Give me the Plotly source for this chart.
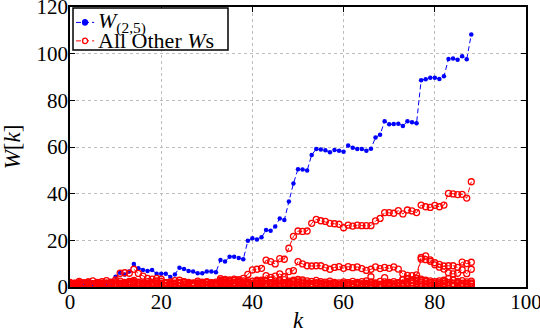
import plotly.graph_objects as go

# Sample index
k = list(range(89))

# W_(2,5)
w25 = [0.3, 0.5, 0.4, 0.8, 0.6, 1.0, 0.7, 0.9, 1.2, 1.8,
       4.4, 6.1, 5.4, 6.6, 9.9, 8.0, 7.3, 6.9, 7.3, 5.7,
       5.7, 5.7, 4.3, 5.4, 8.3, 7.7, 6.9, 6.6, 5.9, 5.9,
       6.6, 6.6, 6.3, 11.6, 10.9, 13.0, 13.0, 12.4, 11.9, 19.8,
       20.9, 20.4, 21.3, 24.4, 24.1, 25.9, 29.4, 28.7, 36.6, 44.4,
       50.5, 50.4, 49.9, 56.6, 59.1, 58.9, 58.6, 57.7, 58.7, 58.4,
       58.0, 60.6, 59.7, 59.1, 59.1, 58.4, 59.2, 64.1, 65.3, 71.0,
       69.7, 69.9, 70.0, 69.0, 71.0, 70.6, 70.2, 88.6, 89.0, 89.7,
       89.7, 89.1, 90.3, 97.7, 97.9, 97.4, 98.9, 97.6, 108.2]

# All other W series
w_a = [0.8, 1.2, 0.6, 1.5, 0.9, 1.1, 1.8, 1.0, 0.7, 1.3,
       0.9, 1.4, 1.1, 1.6, 2.0, 1.2, 0.8, 1.0, 1.3, 0.9,
       1.1, 0.7, 1.2, 1.5, 1.9, 1.0, 0.8, 1.2, 1.4, 0.9,
       1.1, 1.3, 0.8, 2.4, 2.1, 1.7, 1.5, 2.6,
       3.7, 5.4, 7.3, 7.6, 8.0, 11.5, 10.9, 9.9, 12.2, 11.9,
       16.6, 21.7, 24.0, 23.8, 24.0, 27.3, 29.0, 28.4, 28.1, 27.3,
       27.1, 26.9, 25.4, 26.5, 26.1, 26.5, 26.3, 26.3, 26.3, 28.3,
       29.4, 31.9, 31.9, 31.6, 32.7, 31.3, 33.0, 32.6, 31.9, 35.1,
       34.4, 34.1, 35.0, 34.4, 35.1, 40.1, 39.9, 39.6, 39.7, 38.1,
       45.1]

w_b = [1.5, 1.1, 1.9, 1.3, 1.7, 1.2, 2.0, 1.6, 1.4, 1.8,
       1.3, 1.7, 1.5, 2.1, 1.6, 1.9, 1.4, 1.2, 1.6, 1.8,
       1.1, 1.5, 1.8, 1.3, 1.7, 2.0, 1.5, 1.2, 1.6, 1.4,
       1.9, 1.6, 1.3, 2.2, 2.6, 2.3, 2.0, 1.8, 1.5, 2.1,
       1.7, 2.4, 2.9,
       4.9, 4.1, 4.7, 5.6, 4.4, 6.6, 7.0,
       10.9, 9.9, 9.1, 9.0, 9.1, 9.1, 8.3, 7.6, 8.4, 8.7,
       8.0, 8.7, 8.3, 8.6, 7.9, 7.1, 7.6, 8.6, 7.9, 8.4,
       8.0, 8.6, 7.7, 5.6, 5.0, 4.9, 5.2, 12.7, 13.3, 11.6,
       10.4, 9.7, 9.0, 9.1, 9.1, 8.4, 10.7, 10.0, 10.6]

w_c = [0.6, 0.9, 1.4, 0.7, 1.0, 0.5, 1.2, 0.8, 1.6, 0.9,
       0.7, 1.1, 0.6, 1.0, 1.3, 0.8, 1.2, 0.7, 0.9, 1.4,
       1.0, 0.6, 0.8, 1.1, 0.7, 1.3, 0.9, 0.6, 1.0, 1.2,
       0.8, 0.7, 1.5, 1.9, 1.6, 1.3, 1.8, 1.2, 1.0, 1.4,
       1.1, 0.9, 1.6, 1.2, 1.4, 1.0, 1.3, 1.7, 1.5, 1.1,
       1.8, 1.4, 1.2, 1.0, 1.3, 0.9, 1.1, 0.8, 1.2, 1.0,
       0.7, 1.1, 0.9, 1.3, 1.0, 0.8, 1.2, 1.0, 0.9, 1.4,
       1.1, 1.3,
       1.5, 3.3, 3.5, 3.0, 3.8, 12.0, 11.7, 11.0,
       9.5, 8.5, 7.7, 6.1, 5.6, 5.9, 7.4, 5.7, 7.6]

w_d = [1.0, 0.7, 1.3, 0.9, 1.6, 1.2, 0.8, 1.5, 1.1, 1.4,
       3.0, 5.9, 6.1, 5.9, 7.6, 5.8, 4.7, 3.7, 3.4, 3.7,
       3.4, 1.8,
       1.2, 0.9, 1.5, 1.1, 0.8, 1.3, 1.0, 1.6, 0.9, 1.2,
       1.4, 1.0, 2.0, 1.7, 1.5, 1.9, 1.4, 1.1, 1.3, 1.6,
       1.0, 1.4, 1.2, 1.7, 1.3, 1.5, 1.1, 1.8, 2.0, 1.6,
       1.3, 1.1, 1.4, 1.0, 1.2, 0.9, 1.3, 1.1, 0.8, 1.2,
       1.0, 0.9, 1.3, 1.1, 0.8, 1.2, 1.0, 1.4, 1.1, 0.9,
       1.3, 1.6, 1.4, 1.8, 1.5, 2.1, 1.7, 1.3, 1.6, 1.2,
       1.5, 1.9, 1.4, 1.7, 1.2, 1.5, 1.3]

w_e = [0.4, 0.6, 0.3, 0.9, 0.5, 0.7, 1.1, 0.6, 0.8, 0.5,
       0.9, 0.6, 1.2, 0.8, 1.5, 1.0, 0.7, 0.9, 0.6, 1.1,
       0.8, 0.5, 0.7, 1.0, 0.6, 0.9, 1.3, 0.7, 0.5, 0.8,
       0.6, 0.9, 0.7, 1.4, 1.2, 1.0, 0.8, 1.1, 0.9, 0.6,
       0.8, 1.2, 0.7, 0.9, 1.1, 0.8, 0.6, 1.0, 1.3, 0.9,
       1.1, 0.7, 0.9, 0.6, 0.8, 1.0, 0.7, 0.5, 0.9, 0.6,
       0.8, 0.6, 0.9, 1.1, 0.7, 0.8, 4.4, 0.9, 0.6, 0.8,
       0.7, 0.9, 0.6, 1.0, 1.2, 0.8, 0.9, 1.3, 1.0, 0.7,
       0.9, 1.1, 0.8, 1.0, 0.7, 0.9, 0.6, 0.8, 1.2]

w_f = [1.2, 1.5, 1.0, 1.8, 2.2, 1.4, 1.9, 1.3, 1.6, 2.1,
       1.7, 1.3, 1.9, 1.5, 2.3, 1.8, 1.4, 1.6, 1.2, 1.7,
       1.5, 1.9, 1.3, 1.6, 2.0, 2.2, 1.7, 1.4, 1.8, 1.5,
       1.9, 1.6, 1.3, 2.9, 2.7, 2.5, 2.8, 2.3, 1.9, 1.6,
       1.4, 1.8, 2.1, 1.6, 1.9, 1.5, 2.2, 1.7, 2.0, 2.4,
       2.6, 2.2, 1.8, 1.5, 1.9, 1.6, 1.3, 1.7, 1.4, 1.2,
       1.5, 1.8, 1.4, 1.7, 1.3, 1.6, 1.9, 1.5, 1.2, 4.0,
       1.6, 1.3, 1.8, 1.5, 2.0, 1.7, 2.2, 2.8, 2.4, 2.0,
       1.7, 1.9, 2.3, 1.8, 1.5, 1.9, 1.6, 1.4, 1.8]

w_g = [0.2, 0.1, 0.3, 0.2, 0.4, 0.1, 0.3, 0.2, 0.5, 0.3,
       0.4, 0.2, 0.3, 0.6, 0.4, 0.2, 0.5, 0.3, 0.4, 0.2,
       0.3, 0.2, 0.4, 0.3, 0.5, 0.2, 0.3, 0.4, 0.2, 0.3,
       0.5, 0.3, 0.2, 0.4, 0.3, 0.5, 0.2, 0.4, 0.3, 0.5,
       0.3, 0.4, 0.2, 0.5, 0.3, 0.2, 0.4, 0.3, 0.5, 0.4,
       0.2, 0.3, 0.5, 0.2, 0.4, 0.3, 0.2, 0.4, 0.3, 0.2,
       0.4, 0.2, 0.3, 0.5, 0.3, 0.2, 0.4, 0.3, 0.2, 0.5,
       0.3, 0.4, 0.2, 0.3, 0.5, 0.3, 0.4, 0.2, 0.3, 0.4,
       0.2, 0.4, 0.3, 0.5, 0.2, 0.3, 0.4, 0.2, 0.3]

w_h = [2.0, 1.6, 2.4, 1.8, 2.1, 2.6, 1.7, 2.3, 2.7, 1.9,
       2.2, 2.5, 2.0, 2.4, 2.8, 2.1, 1.8, 2.3, 2.0, 2.6,
       2.4, 1.9, 2.2, 2.7, 2.9, 2.3, 2.0, 1.8, 2.5, 2.1,
       2.3, 1.9, 2.1, 3.6, 3.3, 3.0, 3.4, 3.1, 2.6, 2.2,
       2.5, 2.9, 2.4, 2.7, 3.0, 2.6, 2.8, 3.2, 2.5, 2.9,
       3.3, 3.0, 2.6, 2.4, 2.8, 2.3, 2.1, 2.5, 2.0, 1.8,
       2.2, 1.9, 2.4, 2.0, 2.3, 2.6, 2.1, 1.8, 2.4, 2.2,
       2.0, 2.3, 1.9, 3.2, 3.5, 3.0, 3.6, 3.4, 2.9, 2.6,
       2.3, 2.6, 2.9, 3.7, 3.0, 2.4, 2.7, 2.2, 2.5]

other_ws = [w_a, w_b, w_c, w_d, w_e, w_f, w_g, w_h]

x_ticks = [0, 20, 40, 60, 80, 100]
y_ticks = [0, 20, 40, 60, 80, 100, 120]

legend_labels = ["<i>W</i><sub>(2,5)</sub>", "All Other <i>W</i>s"]

FONT = "Liberation Serif"
BLUE = "#0000ff"
RED = "#ff0000"
DASH = "5px,3px"

fig = go.Figure()

fig.add_trace(go.Scatter(
    x=k, y=w25, mode="lines+markers", name=legend_labels[0], showlegend=False,
    line=dict(color=BLUE, width=1, dash=DASH),
    marker=dict(color=BLUE, size=4.5, symbol="circle"),
))

for series in other_ws:
    fig.add_trace(go.Scatter(
        x=k, y=series, mode="lines+markers", name=legend_labels[1], showlegend=False,
        line=dict(color=RED, width=1, dash=DASH),
        marker=dict(color=RED, size=6, symbol="circle-open",
                    line=dict(width=1.3, color=RED)),
    ))

axis_common = dict(
    showline=True, linecolor="black", linewidth=1.5, mirror="ticks",
    ticks="inside", ticklen=5, tickcolor="black",
    showgrid=True, gridcolor="#bdbdbd", griddash="dot", gridwidth=1,
    zeroline=False, ticklabeloverflow="allow", automargin=False,
    tickfont=dict(family=FONT, size=21, color="black"),
)

fig.update_xaxes(range=[0, 100], tickvals=x_ticks, ticklabelstandoff=-5,
                 title=dict(text="<i>k</i>", font=dict(family=FONT, size=23, color="black")),
                 **axis_common)
fig.update_yaxes(range=[0, 120], tickvals=y_ticks, ticklabelstandoff=-4,
                 title=dict(text="<i>W</i>[<i>k</i>]", font=dict(family=FONT, size=23, color="black")),
                 **axis_common)

# Boxed legend in the upper-left corner of the axes
shapes = [dict(type="rect", xref="paper", yref="paper",
               x0=0.0066, x1=0.3465, y0=0.846, y1=0.996,
               line=dict(color="black", width=1.5), fillcolor="white", layer="above")]
annotations = []
for row_y, color, open_marker, label in [(0.945, BLUE, False, legend_labels[0]),
                                         (0.879, RED, True, legend_labels[1])]:
    shapes.append(dict(type="line", xref="paper", yref="paper",
                       x0=0.0132, x1=0.0530, y0=row_y, y1=row_y,
                       line=dict(color=color, width=1, dash=DASH), layer="above"))
    r_x, r_y = 0.0055, 0.0095
    shapes.append(dict(type="circle", xref="paper", yref="paper",
                       x0=0.0331 - r_x, x1=0.0331 + r_x, y0=row_y - r_y, y1=row_y + r_y,
                       line=dict(color=color, width=1.3),
                       fillcolor="white" if open_marker else color, layer="above"))
    annotations.append(dict(xref="paper", yref="paper", x=0.056, y=row_y,
                            xanchor="left", yanchor="middle", showarrow=False,
                            text=label, font=dict(family=FONT, size=22, color="black")))

fig.update_layout(
    width=540, height=333,
    margin=dict(l=70, r=14, t=7, b=46),
    plot_bgcolor="white", paper_bgcolor="white",
    font=dict(family=FONT, color="black"),
    showlegend=False,
    shapes=shapes,
    annotations=annotations,
)

fig.write_html("out.html")
